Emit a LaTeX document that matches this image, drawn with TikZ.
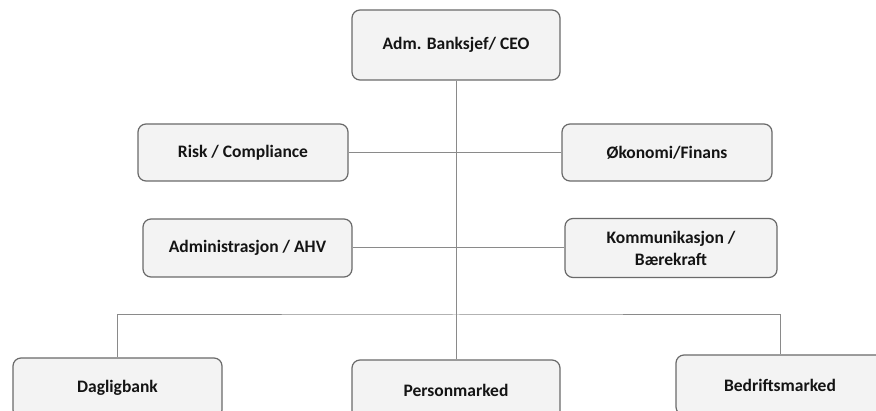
\documentclass[tikz,border=0pt]{standalone}
\usepackage{fontspec}
\setmainfont{Carlito}
\definecolor{boxfill}{HTML}{F3F3F3}
\definecolor{boxline}{HTML}{6A6A6A}
\definecolor{conline}{HTML}{8A8A8A}
\definecolor{txt}{HTML}{141414}
\begin{document}
\begin{tikzpicture}[x=1pt,y=-1pt,
  orgbox/.style={draw=boxline, line width=1.2pt, fill=boxfill, rounded corners=8pt,
    font=\fontsize{17.5}{22}\selectfont\bfseries, text=txt, align=center,
    inner sep=0pt, minimum width=#1},
  orgbox/.default=210pt,
  conn/.style={draw=conline, line width=1pt}]
\useasboundingbox (0,0) rectangle (876,411);
\clip (0,0) rectangle (876,411);
\fill[white] (0,0) rectangle (876,411);
\node[orgbox=208pt, minimum height=70pt] (ceo) at (456,45) {Adm. Banksjef/ CEO};
\node[orgbox=210pt, minimum height=57pt] (risk) at (243,152.5) {Risk / Compliance};
\node[orgbox=210pt, minimum height=57pt] (oko) at (667,152.5) {Økonomi/Finans};
\node[orgbox=209pt, minimum height=58pt] (adm) at (247.5,248) {Administrasjon / AHV};
\node[orgbox=212pt, minimum height=59pt] (kom) at (671,248) {Kommunikasjon /\\Bærekraft};
\node[orgbox=209pt, minimum height=60pt] (dag) at (117.5,388) {Dagligbank};
\node[orgbox=208pt, minimum height=60pt] (pm) at (456,390) {Personmarked};
\node[orgbox=208pt, minimum height=60pt] (bed) at (780,385) {Bedriftsmarked};
\coordinate (bus) at (456,315);
\draw[conn] (ceo.south) -- (pm.north);
\draw[conn] (risk.east) -- (oko.west);
\draw[conn] (adm.east) -- (kom.west);
\draw[conn] (dag.north) |- (bus) -| (bed.north);
\end{tikzpicture}
\end{document}
